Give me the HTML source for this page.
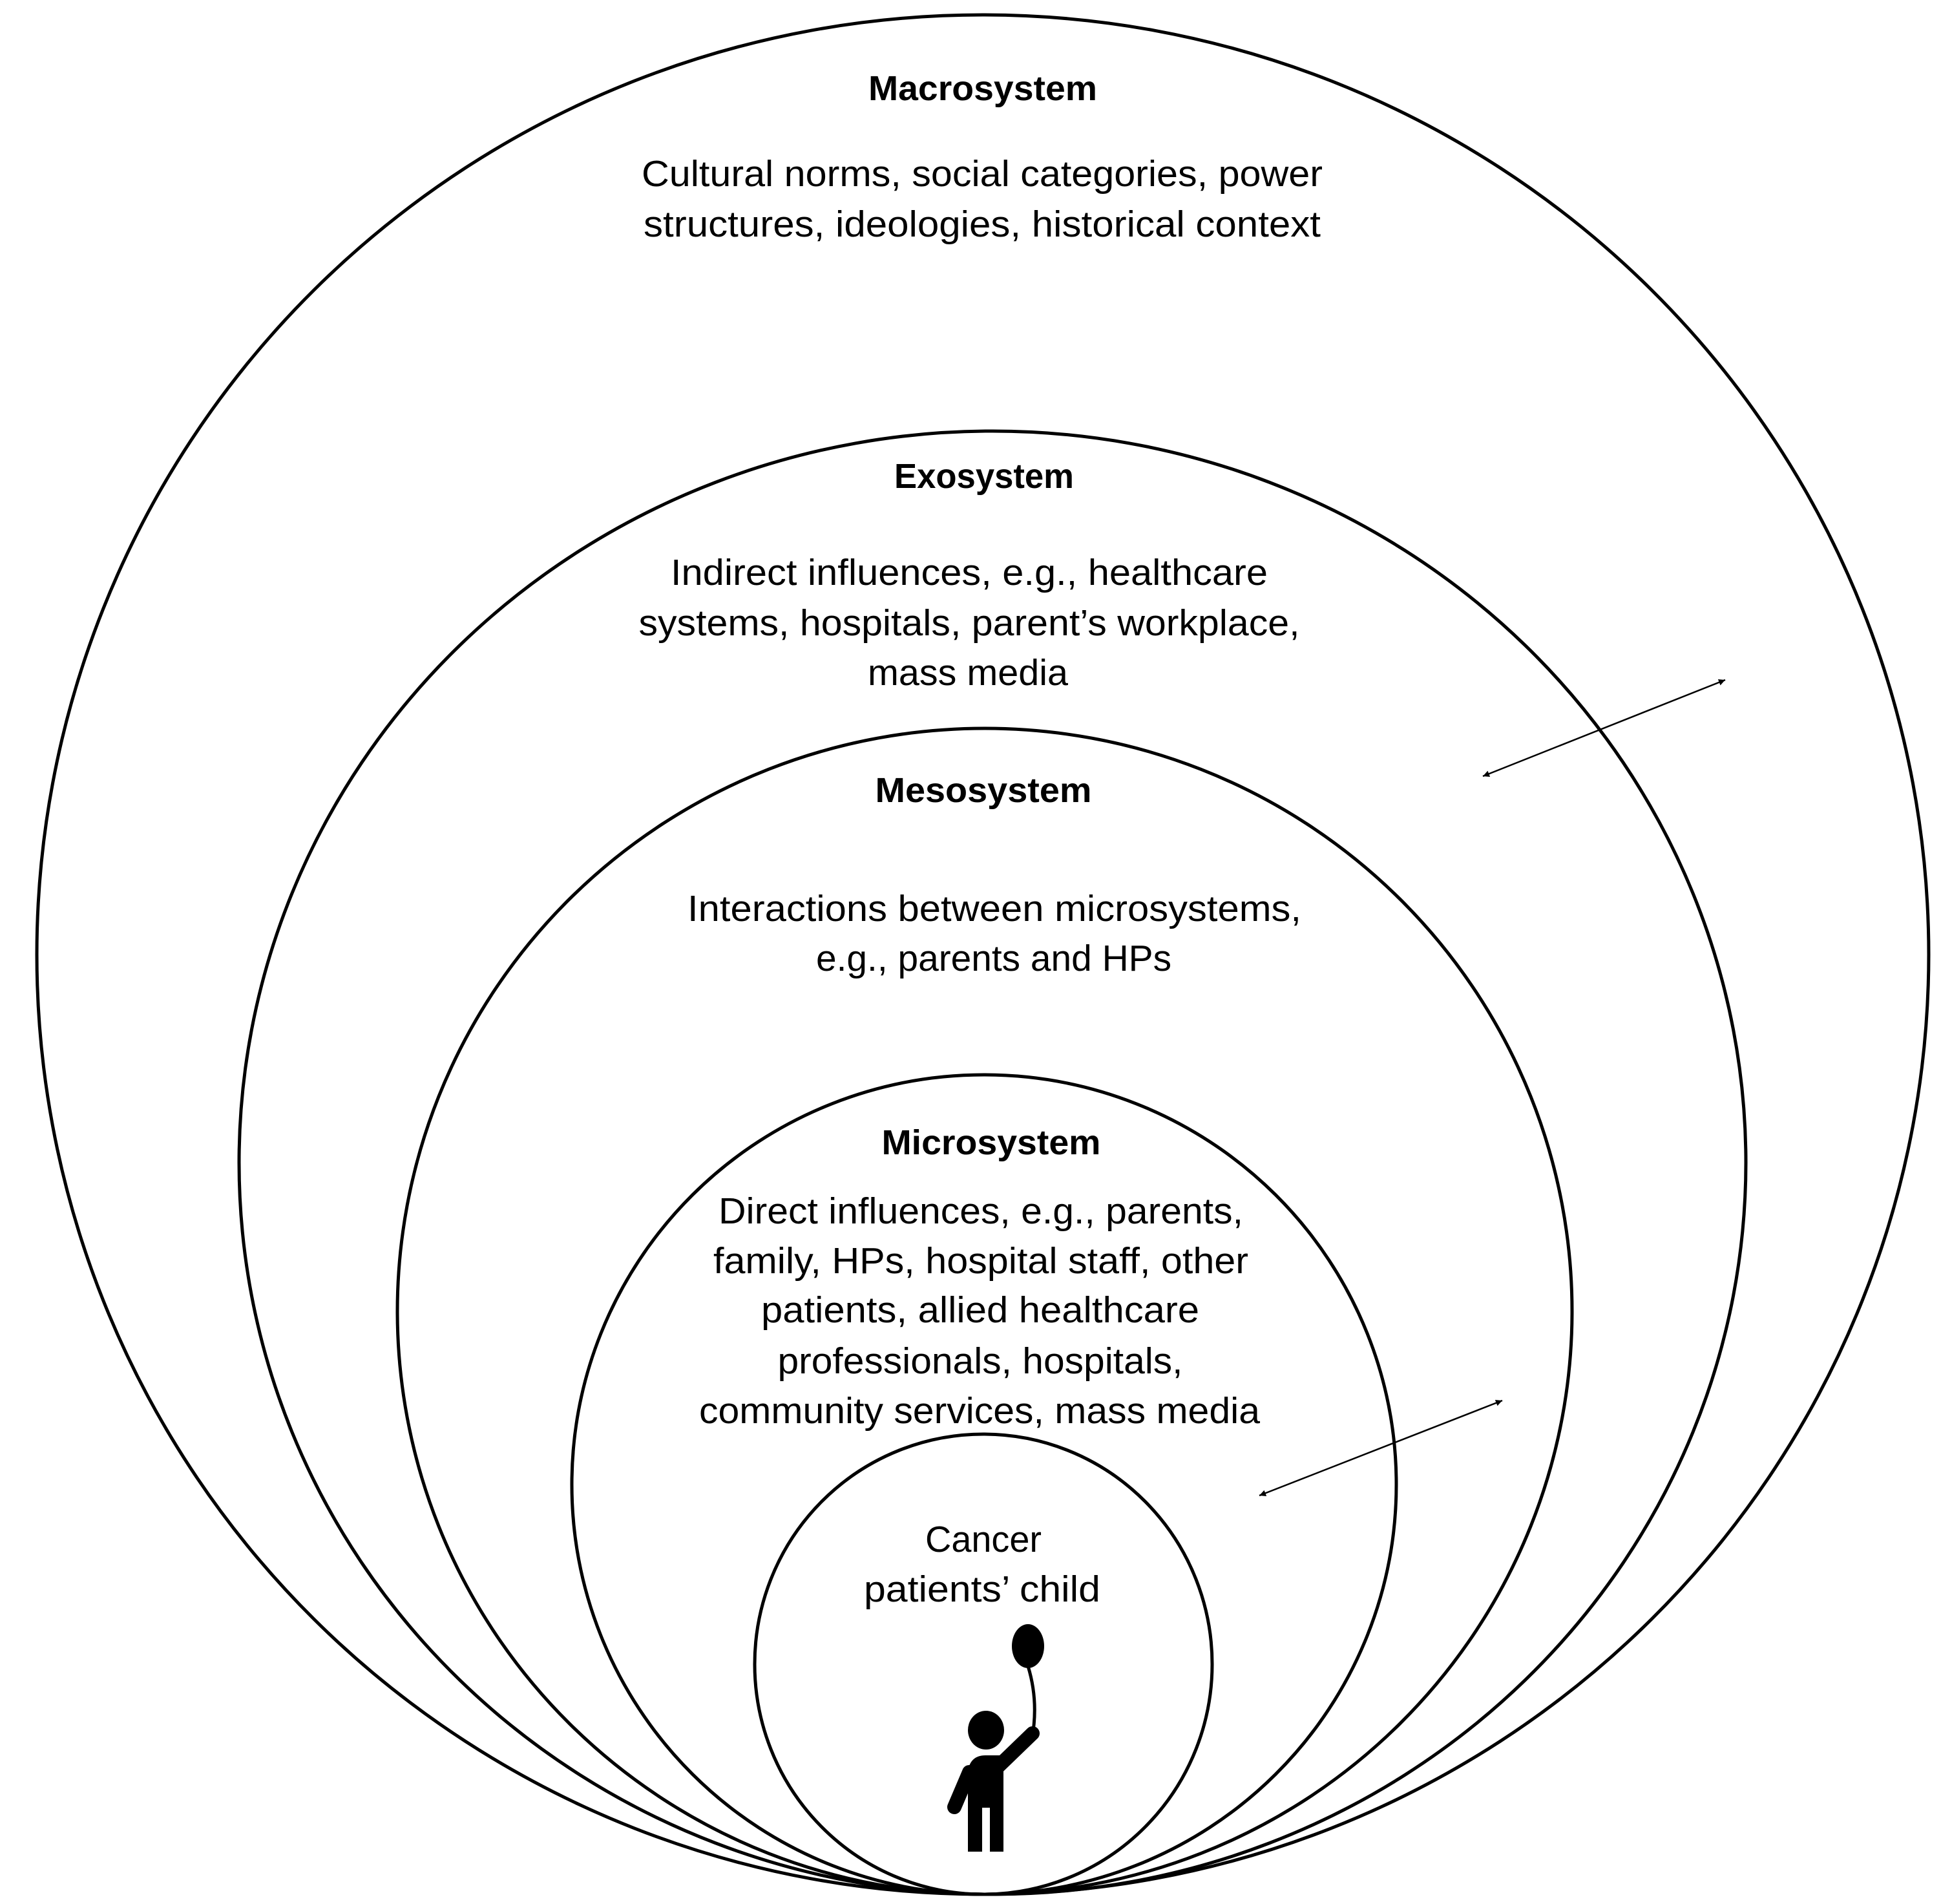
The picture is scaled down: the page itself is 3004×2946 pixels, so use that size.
<!DOCTYPE html>
<html><head><meta charset="utf-8"><style>
html,body{margin:0;padding:0;background:#fff}
svg{display:block}
text{font-family:"Liberation Sans",sans-serif;fill:#000}
</style></head><body>
<svg width="3004" height="2946" viewBox="0 0 3004 2946" xmlns="http://www.w3.org/2000/svg">
<defs>
<marker id="ah" viewBox="0 0 10 10" refX="10" refY="5" markerWidth="14" markerHeight="10" markerUnits="userSpaceOnUse" orient="auto-start-reverse">
<path d="M0,0 L10,5 L0,10 z" fill="#000"/>
</marker>
</defs>
<g fill="none" stroke="#000" stroke-width="5">
<ellipse cx="1521" cy="1477" rx="1464" ry="1454"/>
<ellipse cx="1536" cy="1799" rx="1166" ry="1132"/>
<ellipse cx="1524" cy="2029" rx="909" ry="902"/>
<ellipse cx="1523" cy="2297" rx="638" ry="634"/>
<ellipse cx="1522" cy="2575" rx="354" ry="356"/>
</g>
<g stroke="#000" stroke-width="2.5">
<line x1="2295" y1="1201" x2="2670" y2="1052" marker-start="url(#ah)" marker-end="url(#ah)"/>
<line x1="1949" y1="2314" x2="2325" y2="2167" marker-start="url(#ah)" marker-end="url(#ah)"/>
</g>
<g text-anchor="middle" font-size="57">
<text x="1521" y="155" font-weight="bold" font-size="54" textLength="354" lengthAdjust="spacingAndGlyphs">Macrosystem</text>
<text x="1520" y="288" textLength="1054" lengthAdjust="spacingAndGlyphs">Cultural norms, social categories, power</text>
<text x="1520" y="366" textLength="1048" lengthAdjust="spacingAndGlyphs">structures, ideologies, historical context</text>
<text x="1523" y="755" font-weight="bold" font-size="54" textLength="278" lengthAdjust="spacingAndGlyphs">Exosystem</text>
<text x="1500" y="905" textLength="924" lengthAdjust="spacingAndGlyphs">Indirect influences, e.g., healthcare</text>
<text x="1500" y="983" textLength="1023" lengthAdjust="spacingAndGlyphs">systems, hospitals, parent’s workplace,</text>
<text x="1498" y="1060" textLength="310" lengthAdjust="spacingAndGlyphs">mass media</text>
<text x="1522" y="1241" font-weight="bold" font-size="54" textLength="335" lengthAdjust="spacingAndGlyphs">Mesosystem</text>
<text x="1539" y="1425" textLength="950" lengthAdjust="spacingAndGlyphs">Interactions between microsystems,</text>
<text x="1538" y="1502" textLength="550" lengthAdjust="spacingAndGlyphs">e.g., parents and HPs</text>
<text x="1534" y="1786" font-weight="bold" font-size="54" textLength="339" lengthAdjust="spacingAndGlyphs">Microsystem</text>
<text x="1518" y="1893" textLength="812" lengthAdjust="spacingAndGlyphs">Direct influences, e.g., parents,</text>
<text x="1518" y="1970" textLength="828" lengthAdjust="spacingAndGlyphs">family, HPs, hospital staff, other</text>
<text x="1517" y="2046" textLength="678" lengthAdjust="spacingAndGlyphs">patients, allied healthcare</text>
<text x="1517" y="2125" textLength="627" lengthAdjust="spacingAndGlyphs">professionals, hospitals,</text>
<text x="1516" y="2202" textLength="868" lengthAdjust="spacingAndGlyphs">community services, mass media</text>
<text x="1522" y="2401" textLength="180" lengthAdjust="spacingAndGlyphs">Cancer</text>
<text x="1520" y="2478" textLength="366" lengthAdjust="spacingAndGlyphs">patients’ child</text>
</g>
<g fill="#000">
<ellipse cx="1591" cy="2547" rx="25" ry="34"/>
<path d="M1591,2578 Q1607,2630 1598,2685" fill="none" stroke="#000" stroke-width="5"/>
<ellipse cx="1526" cy="2677" rx="28" ry="30"/>
<path d="M1498,2865 L1498,2740 Q1502,2716 1525,2716 L1553,2716 L1553,2865 Z"/>
<rect x="1520" y="2797" width="12" height="70" fill="#fff"/>
<line x1="1500" y1="2742" x2="1477" y2="2796" stroke="#000" stroke-width="22" stroke-linecap="round"/>
<line x1="1540" y1="2738" x2="1598" y2="2682" stroke="#000" stroke-width="22" stroke-linecap="round"/>
</g>
</svg>
</body></html>
